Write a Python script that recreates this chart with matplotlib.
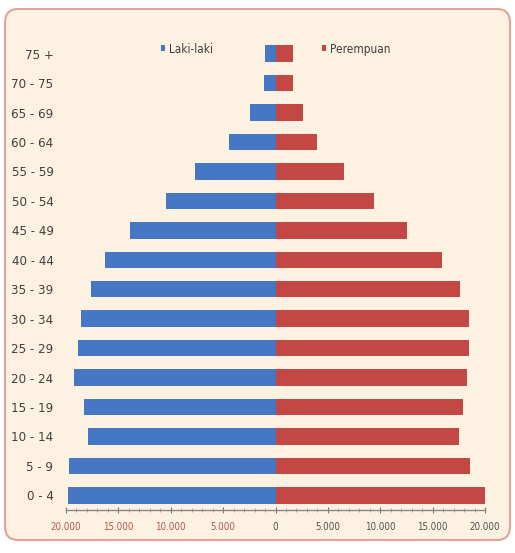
"""Piramida penduduk: Laki-laki vs Perempuan per kelompok umur."""
import numpy as np
import matplotlib
matplotlib.use("Agg")
import matplotlib.pyplot as plt  # noqa: E402
from matplotlib.patches import FancyBboxPatch, Patch  # noqa: E402
from matplotlib.ticker import FixedLocator, MultipleLocator  # noqa: E402

age_groups = ["0 - 4", "5 - 9", "10 - 14", "15 - 19", "20 - 24", "25 - 29", "30 - 34",
              "35 - 39", "40 - 44", "45 - 49", "50 - 54", "55 - 59", "60 - 64",
              "65 - 69", "70 - 75", "75 +"]
laki = [19800, 19700, 17900, 18300, 19200, 18900, 18600, 17600, 16300, 13900,
        10500, 7700, 4400, 2400, 1100, 1000]
perempuan = [20100, 18600, 17500, 17900, 18300, 18500, 18500, 17600, 15900, 12600,
             9400, 6500, 4000, 2600, 1700, 1700]
tick_vals = [-20000, -15000, -10000, -5000, 0, 5000, 10000, 15000, 20000]
tick_labels = ["20.000", "15.000", "10.000", "5.000", "0", "5.000", "10.000", "15.000", "20.000"]

BLUE = "#4677c4"
RED = "#c34843"
BG = "#fdf1e1"

# condensed face to get closer to the narrow font of the original
plt.rcParams["font.family"] = ["DejaVu Sans"]
plt.rcParams["font.stretch"] = "condensed"

fig = plt.figure(figsize=(5.15, 5.53), dpi=100)
fig.patch.set_facecolor("white")
frame = FancyBboxPatch((5 / 515, 13 / 553), 505 / 515, 531 / 553,
                       boxstyle="round,pad=0,rounding_size=0.025",
                       transform=fig.transFigure, facecolor=BG, edgecolor="#e3a396",
                       linewidth=1.5, zorder=-10)
fig.patches.append(frame)

ax = fig.add_axes([66 / 515, 43 / 553, (485 - 66) / 515, 471 / 553])
ax.set_facecolor("none")

y = np.arange(len(age_groups))
ax.barh(y, -np.array(laki), height=0.56, color=BLUE, label="Laki-laki")
ax.barh(y, perempuan, height=0.56, color=RED, label="Perempuan")

ax.set_xlim(-20000, 20000)
ax.set_ylim(-0.5, len(age_groups) - 0.5)
ax.set_yticks(y)
ax.set_yticklabels(age_groups, fontsize=9.5, color="#404040")
ax.tick_params(axis="y", length=0, pad=9)

ax.xaxis.set_major_locator(FixedLocator(tick_vals))
ax.set_xticklabels(tick_labels, fontsize=7)
for lbl, v in zip(ax.get_xticklabels(), tick_vals):
    lbl.set_color("#c0504d" if v < 0 else "#505050")
ax.xaxis.set_minor_locator(MultipleLocator(1000))
ax.tick_params(axis="x", which="major", direction="inout", length=5, color="#777777", pad=6)
ax.tick_params(axis="x", which="minor", direction="inout", length=2.5, color="#999999")

for s in ("top", "right", "left"):
    ax.spines[s].set_visible(False)
ax.spines["bottom"].set_color("#888888")
ax.spines["bottom"].set_linewidth(1.0)

handles = [Patch(facecolor=BLUE, label="Laki-laki"), Patch(facecolor=RED, label="Perempuan")]
ax.legend(handles=handles, ncol=2, loc="upper center", bbox_to_anchor=(0.5, 1.015),
          frameon=False, fontsize=8.5, handlelength=0.4, handleheight=0.4,
          handletextpad=0.3, columnspacing=9.2, labelcolor="#404040")

fig.savefig("out.png", dpi=100, facecolor=fig.get_facecolor())
plt.close(fig)
